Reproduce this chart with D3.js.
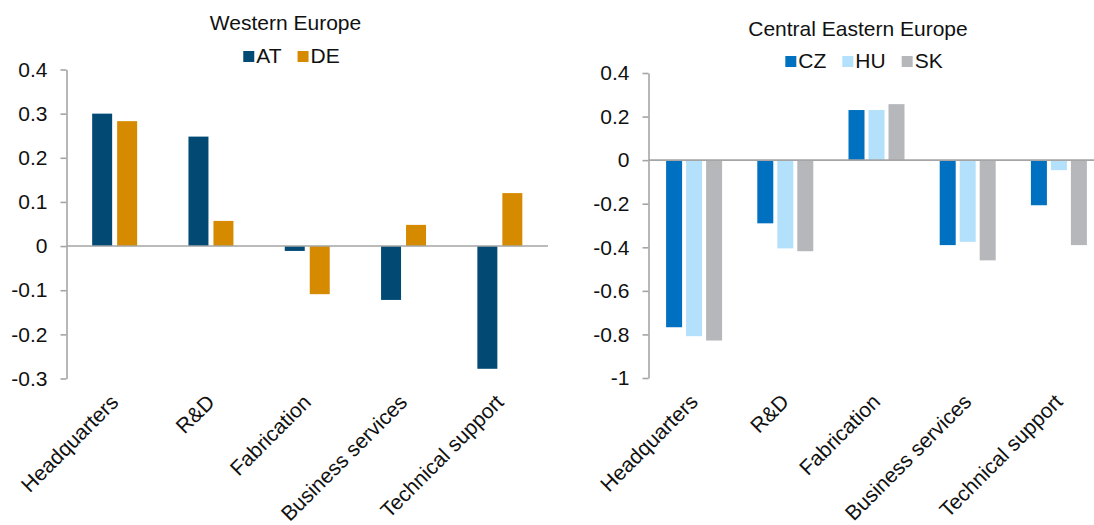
<!DOCTYPE html>
<html>
<head>
<meta charset="utf-8">
<script src="https://cdn.jsdelivr.net/npm/d3@7"></script>
<style>
  html, body { margin: 0; padding: 0; background: #fff; }
  svg { display: block; font-family: "Liberation Sans", Arial, sans-serif; }
</style>
</head>
<body>
<svg id="canvas" width="1094" height="525"></svg>
<script>
// --- data -------------------------------------------------------------
let kCategories = ["Headquarters", "R&D", "Fabrication", "Business services", "Technical support"];

let kWestSeries = ["AT", "DE"];
let kWestAT = [0.30, 0.248, -0.011, -0.122, -0.278];
let kWestDE = [0.283, 0.057, -0.109, 0.048, 0.12];
let kWestTicks = [0.4, 0.3, 0.2, 0.1, 0, -0.1, -0.2, -0.3];

let kEastSeries = ["CZ", "HU", "SK"];
let kEastCZ = [-0.767, -0.29, 0.23, -0.39, -0.207];
let kEastHU = [-0.808, -0.405, 0.23, -0.375, -0.046];
let kEastSK = [-0.828, -0.418, 0.257, -0.46, -0.39];
let kEastTicks = [0.4, 0.2, 0, -0.2, -0.4, -0.6, -0.8, -1];

// --- layout / style ---------------------------------------------------
let FONT_SIZE = 21;

let kColors = {
  "AT": "#024a74",
  "DE": "#d68a00",
  "CZ": "#0070c0",
  "HU": "#b3e0fb",
  "SK": "#b6b7bb",
  "axis": "#a5a5a5",
  "text": "#111"
};

let kWest = {
  "title": "Western Europe",
  "titleX": 285.5,
  "x0": 66.5, "x1": 548,
  "y0": 378.5, "y1": 69.5,
  "titleY": 30, "legendY": 63,
  "groupFrac": 0.467,
  "series": kWestSeries,
  "values": [kWestAT, kWestDE],
  "domain": [-0.3, 0.4],
  "ticks": kWestTicks
};

let kEast = {
  "title": "Central Eastern Europe",
  "titleX": 858,
  "x0": 648.5, "x1": 1104.5,
  "y0": 378, "y1": 73,
  "titleY": 36, "legendY": 68,
  "groupFrac": 0.614,
  "series": kEastSeries,
  "values": [kEastCZ, kEastHU, kEastSK],
  "domain": [-1, 0.4],
  "ticks": kEastTicks
};

let svg = d3.select("#canvas");


function drawPanel(p){
  let g = svg.append("g");

  let x0 = d3.scaleBand()
    .domain(kCategories)
    .range([p.x0, p.x1]);

  let groupW = x0.bandwidth() * p.groupFrac;
  let x1 = d3.scaleBand()
    .domain(p.series)
    .range([0, groupW])
    .paddingInner(0.2);

  let y = d3.scaleLinear()
    .domain(p.domain)
    .range([p.y0, p.y1]);

  // bars
  p.series.forEach(function(s, si){
    g.append("g")
      .selectAll("rect")
      .data(p.values[si])
      .join("rect")
        .attr("x", (d, i) => x0(kCategories[i]) + (x0.bandwidth() - groupW) / 2 + x1(s))
        .attr("y", d => y(Math.max(0, d)))
        .attr("width", x1.bandwidth())
        .attr("height", d => Math.abs(y(d) - y(0)))
        .attr("fill", kColors[s]);
  });

  // y axis
  let axis = d3.axisLeft(y)
    .tickValues(p.ticks)
    .tickFormat(d => d.toString())
    .tickSize(6)
    .tickSizeOuter(0)
    .tickPadding(13);

  let ga = g.append("g")
    .attr("transform", "translate(" + p.x0 + ",0)")
    .call(axis);
  ga.select(".domain").attr("stroke", kColors.axis).attr("stroke-width", 1.6);
  ga.selectAll(".tick line").attr("stroke", kColors.axis).attr("stroke-width", 1.6);
  ga.selectAll(".tick text")
    .attr("fill", kColors.text)
    .attr("font-size", FONT_SIZE)
    .attr("font-family", "Liberation Sans, Arial, sans-serif");

  // zero line
  g.append("line")
    .attr("x1", p.x0).attr("x2", p.x1)
    .attr("y1", y(0)).attr("y2", y(0))
    .attr("stroke", kColors.axis)
    .attr("stroke-width", 1.6);

  // category labels, rotated
  g.append("g")
    .selectAll("text")
    .data(kCategories)
    .join("text")
      .attr("transform", d => "translate(" + (x0(d) + x0.bandwidth() / 2 + 5) + "," + (p.y0 + 25) + ") rotate(-45)")
      .attr("text-anchor", "end")
      .attr("font-size", FONT_SIZE)
      .attr("fill", kColors.text)
      .text(d => d);

  // title
  g.append("text")
    .attr("x", p.titleX)
    .attr("y", p.titleY)
    .attr("text-anchor", "middle")
    .attr("font-size", FONT_SIZE)
    .attr("fill", kColors.text)
    .text(p.title);

  drawLegend(g, p, p.titleX + 6);
}


function drawLegend(g, p, cx){
  let lg = g.append("g");
  let tx = 0;
  p.series.forEach(function(s, i){
    lg.append("rect")
      .attr("x", tx)
      .attr("y", p.legendY - 12)
      .attr("width", 11)
      .attr("height", 11)
      .attr("fill", kColors[s]);
    let t = lg.append("text")
      .attr("x", tx + 13)
      .attr("y", p.legendY)
      .attr("font-size", FONT_SIZE)
      .attr("fill", kColors.text)
      .text(s);
    tx += 13 + t.node().getComputedTextLength() + 16;
  });
  let w = tx - 16;
  lg.attr("transform", "translate(" + (cx - w / 2) + ",0)");
}


drawPanel(kWest);
drawPanel(kEast);
</script>
</body>
</html>
